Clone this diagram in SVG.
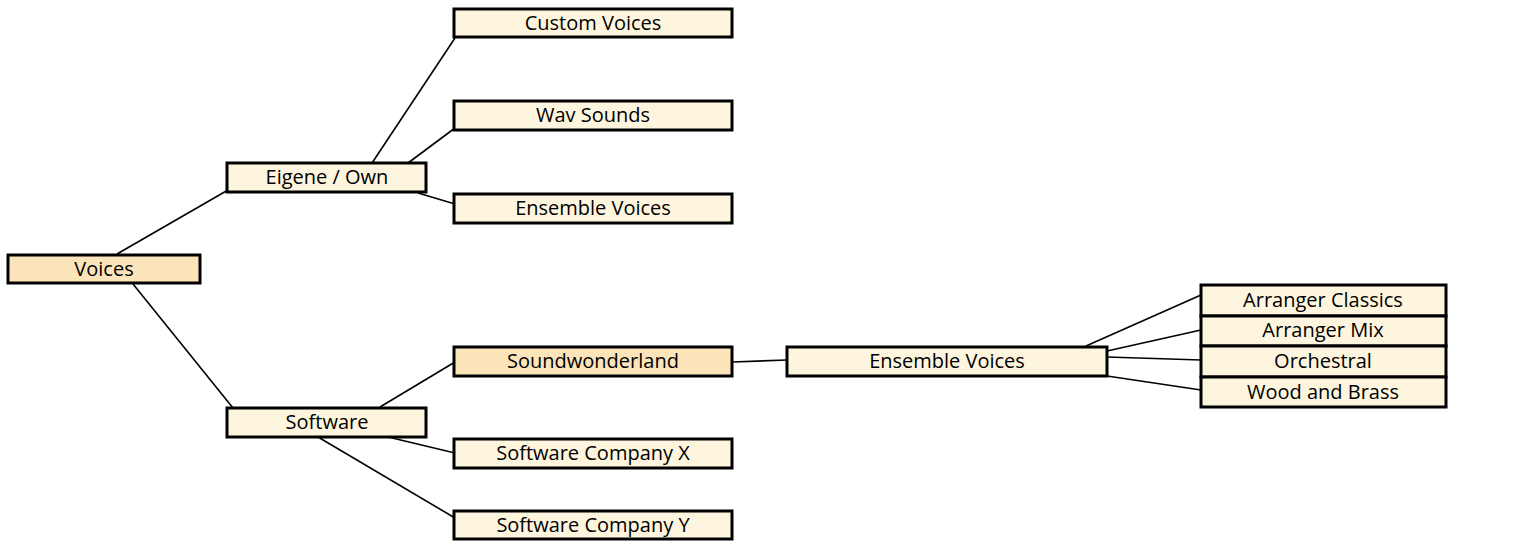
<svg xmlns="http://www.w3.org/2000/svg" width="1524" height="541" viewBox="0 0 1524 541">
<style>
.box{fill:#FEF5DE;stroke:#000;stroke-width:3}
.hl{fill:#FCE4BA}
.lbl{font-family:"Open Sans","Liberation Sans",sans-serif;font-size:20px;fill:#000;text-anchor:middle}
.conn line{stroke:#000;stroke-width:1.6}
</style>
<rect width="1524" height="541" fill="#fff"/>
<g class="conn" id="connectors">
<line x1="117" y1="254" x2="228" y2="190"/>
<line x1="133" y1="284" x2="233" y2="408"/>
<line x1="372" y1="163" x2="455" y2="38"/>
<line x1="408" y1="163" x2="455" y2="128"/>
<line x1="418" y1="193" x2="455" y2="204"/>
<line x1="380" y1="407" x2="455" y2="362"/>
<line x1="388" y1="437" x2="455" y2="453"/>
<line x1="318" y1="437" x2="455" y2="518"/>
<line x1="732" y1="362" x2="787" y2="360"/>
<line x1="1086" y1="346" x2="1201" y2="295"/>
<line x1="1107" y1="351" x2="1201" y2="330"/>
<line x1="1107" y1="357" x2="1201" y2="360"/>
<line x1="1107" y1="376" x2="1201" y2="390"/>
</g>
<g id="voices"><rect class="box hl" x="8" y="255" width="192" height="28"/><text class="lbl" x="104" y="276">Voices</text></g>
<g id="eigene"><rect class="box" x="227" y="163" width="199" height="29"/><text class="lbl" x="327" y="184">Eigene / Own</text></g>
<g id="custom"><rect class="box" x="454" y="9" width="278" height="28"/><text class="lbl" x="593" y="30">Custom Voices</text></g>
<g id="wav"><rect class="box" x="454" y="101" width="278" height="29"/><text class="lbl" x="593" y="122">Wav Sounds</text></g>
<g id="ensemble1"><rect class="box" x="454" y="194" width="278" height="29"/><text class="lbl" x="593" y="215">Ensemble Voices</text></g>
<g id="software"><rect class="box" x="227" y="408" width="199" height="29"/><text class="lbl" x="327" y="429">Software</text></g>
<g id="soundwonderland"><rect class="box hl" x="454" y="347" width="278" height="29"/><text class="lbl" x="593" y="368">Soundwonderland</text></g>
<g id="companyx"><rect class="box" x="454" y="439" width="278" height="29"/><text class="lbl" x="593" y="460">Software Company X</text></g>
<g id="companyy"><rect class="box" x="454" y="511" width="278" height="28"/><text class="lbl" x="593" y="532">Software Company Y</text></g>
<g id="ensemble2"><rect class="box" x="787" y="347" width="320" height="29"/><text class="lbl" x="947" y="368">Ensemble Voices</text></g>
<g id="arrclassics"><rect class="box" x="1201" y="285" width="245" height="31"/><text class="lbl" x="1323" y="307">Arranger Classics</text></g>
<g id="arrmix"><rect class="box" x="1201" y="316" width="245" height="30"/><text class="lbl" x="1323" y="337">Arranger Mix</text></g>
<g id="orchestral"><rect class="box" x="1201" y="346" width="245" height="31"/><text class="lbl" x="1323" y="368">Orchestral</text></g>
<g id="wood"><rect class="box" x="1201" y="377" width="245" height="30"/><text class="lbl" x="1323" y="399">Wood and Brass</text></g>
</svg>
